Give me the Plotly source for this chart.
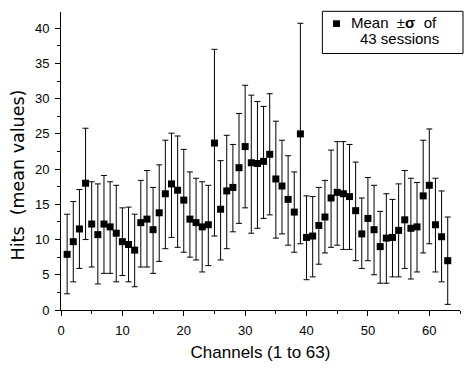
import plotly.graph_objects as go

channels = list(range(1, 64))
means = [7.9, 9.7, 11.5, 18.0, 12.2, 10.7, 12.2, 11.8, 10.9, 9.7,
         9.3, 8.5, 12.4, 12.9, 11.4, 13.8, 16.5, 17.9, 17.0, 15.6,
         12.9, 12.4, 11.8, 12.1, 23.7, 14.3, 16.9, 17.4, 20.2, 23.2,
         20.9, 20.8, 21.1, 22.1, 18.6, 17.6, 15.7, 13.9, 25.0, 10.3,
         10.5, 12.0, 13.2, 15.9, 16.7, 16.5, 16.1, 14.1, 10.8, 13.0,
         11.4, 9.0, 10.2, 10.3, 11.3, 12.8, 11.6, 11.8, 16.2, 17.7,
         12.1, 10.4, 7.0]
err_top = [13.6, 15.4, 17.1, 25.8, 18.2, 17.9, 19.1, 18.2, 17.7, 14.5,
           14.6, 13.6, 18.4, 19.8, 17.4, 20.6, 24.1, 25.1, 24.7, 22.8,
           19.6, 18.7, 18.2, 17.7, 37.0, 21.2, 24.8, 23.5, 27.9, 31.9,
           30.5, 29.6, 28.9, 30.7, 26.8, 24.1, 21.9, 19.6, 40.7, 16.2,
           16.1, 17.4, 18.4, 22.7, 23.9, 23.9, 23.5, 21.0, 15.9, 18.8,
           17.7, 14.0, 16.5, 15.7, 17.9, 19.8, 18.7, 18.1, 24.1, 25.7,
           18.7, 16.9, 13.2]
err_bottom = [2.3, 4.0, 5.9, 10.0, 6.1, 3.7, 5.2, 5.2, 4.0, 4.9,
              4.0, 3.3, 6.1, 6.1, 5.2, 6.9, 8.7, 10.3, 8.9, 8.2,
              7.5, 7.1, 5.4, 6.3, 10.5, 7.1, 8.7, 11.1, 12.3, 14.5,
              10.9, 11.6, 13.0, 13.5, 10.2, 10.8, 9.2, 8.2, 9.4, 4.3,
              4.7, 6.5, 8.1, 8.9, 9.2, 8.6, 8.6, 7.0, 5.9, 7.0,
              5.0, 3.8, 3.8, 4.7, 4.7, 5.9, 4.4, 5.4, 8.1, 9.4,
              5.4, 4.0, 0.8]

x_ticks = [0, 10, 20, 30, 40, 50, 60]
y_ticks = [0, 5, 10, 15, 20, 25, 30, 35, 40]
x_title = "Channels (1 to 63)"
y_title = "Hits\u00a0\u00a0(mean values)"
legend_line1 = "Mean\u00a0\u00a0\u00b1<b>\u03c3</b>\u00a0\u00a0of"
legend_line2 = "43 sessions"

err_plus = [t - m for t, m in zip(err_top, means)]
err_minus = [m - b for m, b in zip(means, err_bottom)]

FONT = "Liberation Sans, Arial, sans-serif"

fig = go.Figure()
fig.add_trace(go.Scatter(
    x=channels, y=means, mode="markers",
    name="Mean \u00b1\u03c3 of 43 sessions", showlegend=False,
    marker=dict(symbol="square", size=7, color="black"),
    error_y=dict(type="data", symmetric=False, array=err_plus,
                 arrayminus=err_minus, color="black", thickness=1, width=3),
))

axis_common = dict(
    showgrid=False, zeroline=False, showline=True, linecolor="black",
    linewidth=1, ticks="outside", ticklen=5, tickcolor="black",
    tickfont=dict(family=FONT, size=13, color="black"),
    mirror=False, ticklabelstandoff=3, automargin=False,
)

fig.update_layout(
    width=471, height=372,
    margin=dict(l=61, r=11, t=12, b=62),
    paper_bgcolor="white", plot_bgcolor="white",
    font=dict(family=FONT, size=13, color="black"),
    showlegend=False,
    xaxis=dict(range=[0, 65], tickvals=x_ticks,
               minor=dict(dtick=5, ticks="outside", ticklen=3, tickcolor="black"),
               title=dict(text=x_title, font=dict(family=FONT, size=17),
                          standoff=9),
               **axis_common),
    yaxis=dict(range=[0, 42.3], tickvals=y_ticks,
               minor=dict(dtick=2.5, ticks="outside", ticklen=3, tickcolor="black"),
               **axis_common),
    shapes=[
        dict(type="rect", xref="paper", yref="paper",
             x0=0.6551, x1=1.0075, y0=0.8607, y1=1.0023,
             line=dict(color="black", width=1), fillcolor="white", layer="above"),
        dict(type="rect", xref="paper", yref="paper",
             x0=0.6817, x1=0.6992, y0=0.9498, y1=0.9722,
             line=dict(color="black", width=0), fillcolor="black", layer="above"),
    ],
    annotations=[
        dict(text=y_title, xref="paper", yref="paper", x=-0.1073, y=0.452,
             xanchor="center", yanchor="middle", showarrow=False, textangle=-90,
             font=dict(family="DejaVu Sans, sans-serif", size=17.5, color="black")),
        dict(text=legend_line1, xref="paper", yref="paper", x=0.7218, y=0.9632,
             xanchor="left", yanchor="middle", showarrow=False,
             font=dict(family=FONT, size=15, color="black")),
        dict(text=legend_line2, xref="paper", yref="paper", x=0.7444, y=0.911,
             xanchor="left", yanchor="middle", showarrow=False,
             font=dict(family=FONT, size=15, color="black")),
    ],
)

fig.write_html("out.html", config={"displayModeBar": False},
               post_script="document.body.style.margin='0';")
